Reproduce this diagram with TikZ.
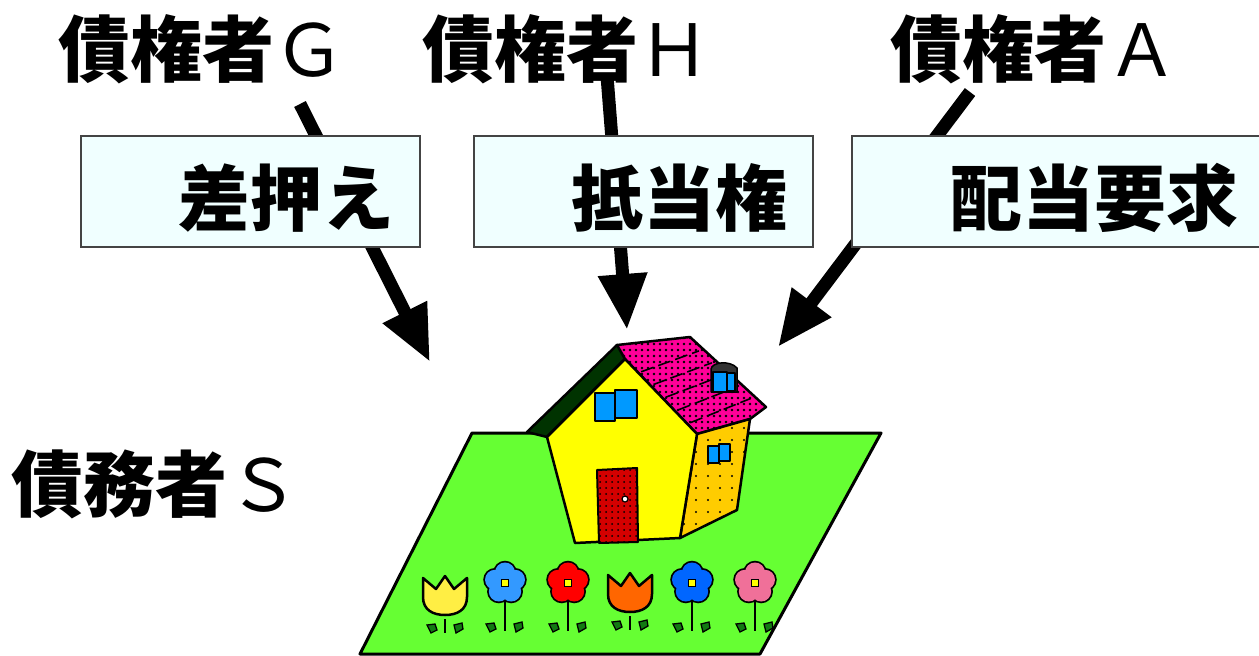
\documentclass[tikz,border=0pt]{standalone}
\usepackage{fontspec}
\newfontfamily\jp{Noto Sans CJK JP}
\usetikzlibrary{arrows.meta,patterns.meta}
\definecolor{lawn}{HTML}{66FF33}
\definecolor{wallyellow}{HTML}{FFFF00}
\definecolor{sidewall}{HTML}{FFCC00}
\definecolor{roofpink}{HTML}{FF0099}
\definecolor{dkgreen}{HTML}{003300}
\definecolor{winblue}{HTML}{0099FF}
\definecolor{doorred}{HTML}{D40000}
\definecolor{boxfill}{HTML}{F0FFFF}
\definecolor{boxedge}{HTML}{444444}
\definecolor{leaf}{HTML}{127A12}
\definecolor{fblue}{HTML}{3399FF}
\definecolor{fblue2}{HTML}{0066FF}
\definecolor{fred}{HTML}{FF0000}
\definecolor{fpink}{HTML}{F07099}
\definecolor{forange}{HTML}{FF6600}
\definecolor{fyellow}{HTML}{FFEE44}
\definecolor{dkgray}{HTML}{333333}
\newcommand{\lat}[1]{{\mdseries #1}}
\tikzset{
  lbl/.style={font=\jp\bfseries\fontsize{72}{80}\selectfont, inner sep=0pt, anchor=base},
  tbox/.style={draw=boxedge, fill=boxfill, line width=1.5pt, minimum height=111pt,
    text height=67pt, text depth=0pt, inner sep=0pt, font=\jp\bfseries\fontsize{72}{80}\selectfont},
  arr/.style={line width=13pt, -{Triangle[length=56pt,width=46pt]}},
  hs/.style={draw=black, line width=2.5pt, line join=round},
  shingle/.style={draw=black, line width=1.6pt, dash pattern=on 13pt off 5pt},
  pics/flower/.style={code={
    \draw[line width=1.6pt] (0,15) -- (0,48);
    \filldraw[fill=leaf, line width=1.3pt] (-19,41) -- (-11,40) -- (-9,46) -- (-15,49) -- cycle;
    \filldraw[fill=leaf, line width=1.3pt] (9,41) -- (17,39) -- (18,45) -- (11,49) -- cycle;
    \foreach \a in {-90,-18,54,126,198} \draw[line width=3.5pt] (\a:10.5) circle (10);
    \foreach \a in {-90,-18,54,126,198} \fill[#1] (\a:10.5) circle (10);
    \fill[#1] (0,0) circle (10);
    \filldraw[fill=wallyellow, line width=1.2pt] (-3.5,-3.5) rectangle (3.5,3.5);
  }},
  pics/tulip/.style={code={
    \draw[line width=1.6pt] (0,24) -- (0,38);
    \filldraw[fill=leaf, line width=1.3pt] (-18,30) -- (-10,29) -- (-8,35) -- (-14,38) -- cycle;
    \filldraw[fill=leaf, line width=1.3pt] (9,30) -- (17,28) -- (18,34) -- (11,38) -- cycle;
    \filldraw[fill=#1, line width=2.5pt, line join=round] (-22,-17) -- (-9,-6) -- (0,-19) -- (9,-6) -- (22,-17) -- (22,2)
      .. controls (22,15) and (12,20) .. (0,20) .. controls (-12,20) and (-22,15) .. (-22,2) -- cycle;
  }}
}
\begin{document}
\begin{tikzpicture}[x=1pt,y=-1pt]
\useasboundingbox (0,0) rectangle (1259,656);
\fill[white] (0,0) rectangle (1259,656);

% lawn
\filldraw[fill=lawn, line width=3pt, line join=round] (472,433) -- (881,433) -- (760,654) -- (360,654) -- cycle;

% house
\filldraw[hs, fill=dkgreen] (527,432) -- (617,345) -- (627,357) -- (547,437) -- cycle;
\filldraw[hs, fill=roofpink, postaction={pattern={Dots[distance=6pt,radius=1.3pt]}, pattern color=black}]
  (617,345) -- (690,337) -- (766,407) -- (750,419) -- (697,434) -- (625,359) -- cycle;
\foreach \t in {0.17,0.34,0.51,0.68,0.85}
  \draw[shingle] ({625+72*\t+4},{359+75*\t}) -- ({690+76*\t-4},{337+70*\t+2});
\filldraw[hs, fill=sidewall, postaction={pattern={Dots[distance=12pt,radius=1.2pt]}, pattern color=black}]
  (697,434) -- (750,419) -- (737,510) -- (680,538) -- cycle;
\filldraw[hs, fill=wallyellow] (547,437) -- (625,359) -- (697,434) -- (680,538) -- (575,543) -- cycle;
\filldraw[hs, line width=1.8pt, fill=winblue] (595,393) rectangle (615,421);
\filldraw[hs, line width=1.8pt, fill=winblue] (615,390) rectangle (637,418);
\filldraw[hs, line width=1.5pt, fill=winblue] (708,446) rectangle (719,463);
\filldraw[hs, line width=1.5pt, fill=winblue] (719,444) rectangle (730,461);
\filldraw[hs, line width=1.5pt, fill=dkgray] (711,369) .. controls (712,362) and (730,360) .. (737,368) -- (737,392) -- (711,392) -- cycle;
\filldraw[hs, line width=1.2pt, fill=winblue] (713,372) rectangle (727,392);
\filldraw[hs, line width=1.2pt, fill=winblue] (727,373) rectangle (735,391);
\filldraw[hs, line width=2pt, fill=doorred, postaction={pattern={Dots[distance=6pt,radius=1pt]}, pattern color=black}]
  (597,470) -- (637,468) -- (638,542) -- (599,543) -- cycle;
\filldraw[fill=white, line width=1.2pt] (625,499) circle (3);

% flowers
\pic at (445,595) {tulip=fyellow};
\pic at (505,583) {flower=fblue};
\pic at (568,583) {flower=fred};
\pic at (630,592) {tulip=forange};
\pic at (692,583) {flower=fblue2};
\pic at (755,583) {flower=fpink};

% labels
\node[lbl] (g) at (202,76) {債権者\lat{Ｇ}};
\node[lbl] (h) at (566,76) {債権者\lat{Ｈ}};
\node[lbl] (a) at (1034,76) {債権者\lat{Ａ}};
\node[lbl] (s) at (156,511) {債務者\lat{Ｓ}};

% arrows
\coordinate (gs) at (300,104);
\coordinate (ge) at (430,362);
\coordinate (hs) at (607,76);
\coordinate (he) at (627,330);
\coordinate (as) at (970,92);
\coordinate (ae) at (778,347);
\draw[arr] (gs) -- (ge);
\draw[arr] (hs) -- (he);
\draw[arr] (as) -- (ae);

% boxes
\node[tbox, minimum width=339pt] (b1) at (250.5,191.5) {　差押え};
\node[tbox, minimum width=339pt] (b2) at (643.5,191.5) {　抵当権};
\node[tbox, minimum width=412pt] (b3) at (1058,191.5) {　配当要求};
\end{tikzpicture}
\end{document}
